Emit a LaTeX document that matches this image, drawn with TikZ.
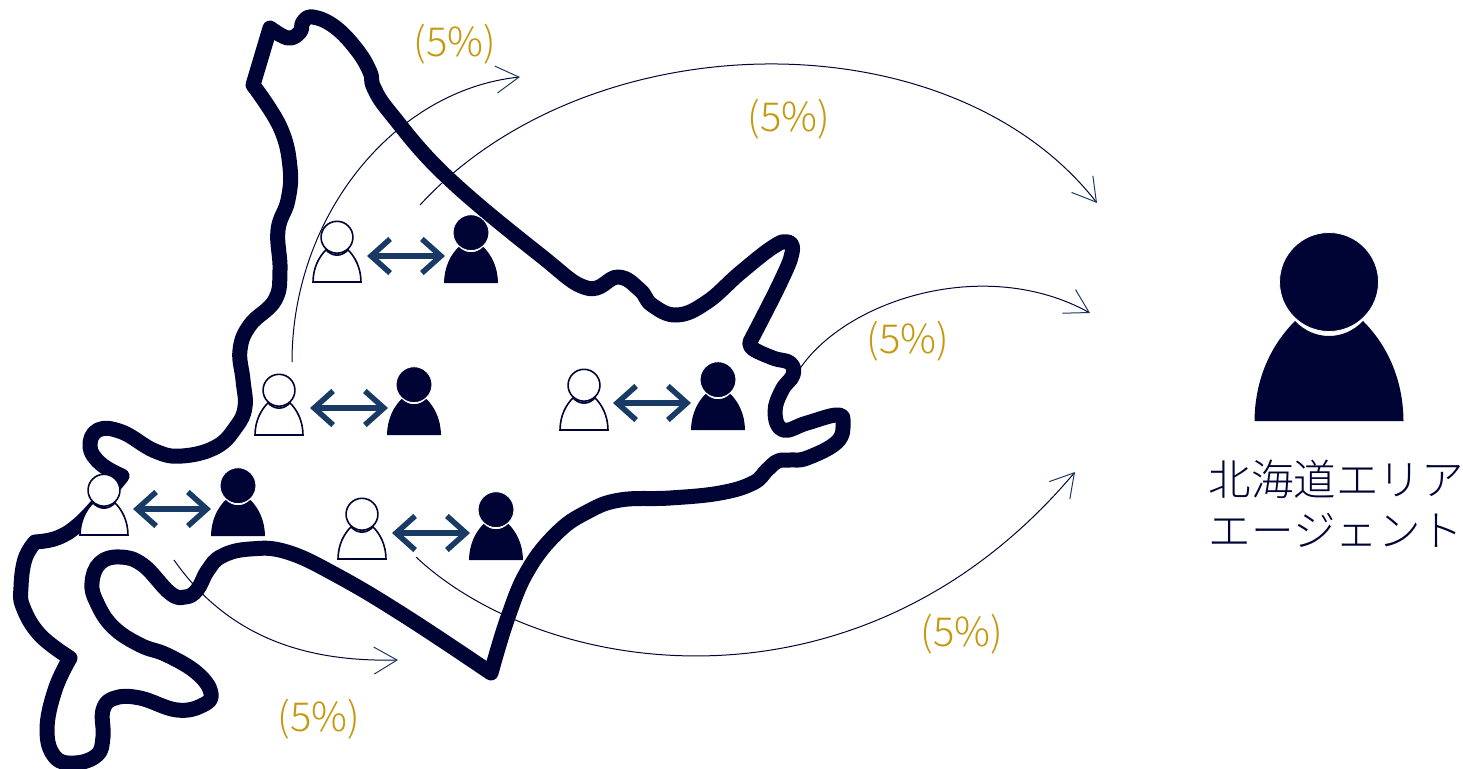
\documentclass[tikz,border=0pt]{standalone}
\usepackage{fontspec}
\usetikzlibrary{arrows.meta}
\newfontfamily\jpfont{Noto Sans CJK JP Light}
\definecolor{mapnavy}{HTML}{000435}
\definecolor{pairblue}{HTML}{1A3A66}
\definecolor{rategold}{HTML}{C5980F}
\tikzset{
	coast/.style={draw=mapnavy,line width=15pt,line join=round,line cap=round},
	pairarrow/.style={draw=pairblue,line width=5.5pt,{Straight Barb[length=19pt,width=34pt]}-{Straight Barb[length=19pt,width=34pt]}},
	flowarrow/.style={draw=mapnavy,line width=1pt,-{Straight Barb[length=23pt,width=27pt,color=pairblue,line width=1pt]}},
	ratelabel/.style={text=rategold,font=\jpfont\fontsize{40}{40}\selectfont},
	agentlabel/.style={text=mapnavy,font=\jpfont\fontsize{42.5}{50}\selectfont},
	darkperson/.pic={
		\fill[mapnavy] (-74.5,0) .. controls (-74,-45) and (-56,-78) .. (-34,-100) .. controls (-15,-80) and (15,-80) .. (34,-100) .. controls (56,-78) and (74,-45) .. (74.5,0) -- cycle;
		\fill[mapnavy,draw=white,line width=.8pt] (0,-139) circle (49.5);
	},
	whiteperson/.pic={
		\filldraw[fill=white,draw=mapnavy,line width=1.6pt] (-74.5,0) .. controls (-74,-45) and (-56,-78) .. (-34,-100) .. controls (-15,-78) and (15,-78) .. (34,-100) .. controls (56,-78) and (74,-45) .. (74.5,0) -- cycle;
		\filldraw[fill=white,draw=mapnavy,line width=1.6pt] (0,-139) circle (49.5);
	}
}
\begin{document}
\begin{tikzpicture}[x=1pt,y=-1pt]
	\useasboundingbox (0,0) rectangle (1463,768);
	\draw[coast] plot[smooth,tension=.7] coordinates {(270,28) (288,38) (300,32) (303,22) (313,17) (335,27) (357,50) (370,72) (374,88) (392,115) (447,177) (540,255) (587,288) (618,277) (640,290) (652,305) (677,315) (707,302) (740,273) (773,247) (788,242) (792,253) (780,283) (751,340)}
		-- plot[smooth,tension=.7] coordinates {(751,340) (752,348) (773,358) (790,363) (793,375) (782,390) (775,412) (783,430) (807,423) (837,415) (843,423) (837,442) (807,458) (790,460) (778,461) (767,470) (753,483) (720,493) (670,498) (620,500) (587,512) (557,533) (528,570) (508,617) (491,673)}
		-- plot[smooth,tension=.7] coordinates {(491,673) (405,616) (338,576) (287,552) (250,549) (222,556) (208,570) (197,590) (185,597) (170,593) (143,565) (120,557) (100,563) (92,583) (97,603) (113,627) (140,645) (167,655) (197,673) (211,693) (203,705) (177,710) (140,698) (115,698) (103,710) (103,737) (97,755) (75,763) (55,757) (47,730) (55,690) (70,658)}
		-- plot[smooth,tension=.7] coordinates {(70,658) (40,635) (23,607) (21,587) (25,559) (35,542)}
		-- plot[smooth,tension=.7] coordinates {(35,542) (57,538) (78,525) (101,501) (122,476)}
		-- plot[smooth,tension=.7] coordinates {(122,476) (101,464) (90,447) (98,430) (122,432) (155,451) (182,456) (216,447) (236,427) (245,407) (243,380) (240,350) (250,325) (275,300) (280,270) (278,230) (288,200) (290,167) (280,127) (253,85)}
		-- cycle;
	\coordinate (northstart) at (292,362);
	\coordinate (northend) at (520,77);
	\coordinate (eaststart) at (420,205);
	\coordinate (eastend) at (1097,203);
	\coordinate (kushirostart) at (799,370);
	\coordinate (kushiroend) at (1090,313);
	\coordinate (obihirostart) at (416,557);
	\coordinate (obihiroend) at (1075,472);
	\coordinate (southstart) at (174,560);
	\coordinate (southend) at (398,660);
	\draw[flowarrow] (northstart) .. controls (292,215) and (395,90) .. (northend);
	\draw[flowarrow] (eaststart) .. controls (590,20) and (950,15) .. (eastend);
	\draw[flowarrow] (kushirostart) .. controls (845,300) and (985,255) .. (kushiroend);
	\draw[flowarrow] (obihirostart) .. controls (545,678) and (860,727) .. (obihiroend);
	\draw[flowarrow] (southstart) .. controls (230,640) and (310,662) .. (southend);
	\pic[scale=.322] (wa) at (337,282) {whiteperson};
	\pic[scale=.362] (da) at (471,283) {darkperson};
	\pic[scale=.322] (wb) at (279,435) {whiteperson};
	\pic[scale=.362] (db) at (414,435) {darkperson};
	\pic[scale=.322] (wc) at (584,430) {whiteperson};
	\pic[scale=.362] (dc) at (718,430) {darkperson};
	\pic[scale=.322] (wd) at (104,535) {whiteperson};
	\pic[scale=.362] (dd) at (238,536) {darkperson};
	\pic[scale=.322] (we) at (362,559) {whiteperson};
	\pic[scale=.362] (de) at (496,560) {darkperson};
	\pic (agent) at (1329,421) {darkperson};
	\coordinate (al) at (367,256);
	\coordinate (ar) at (445,256);
	\coordinate (bl) at (310,408);
	\coordinate (br) at (388,408);
	\coordinate (cl) at (613,403);
	\coordinate (cr) at (691,403);
	\coordinate (dl) at (133,509);
	\coordinate (dr) at (211,509);
	\coordinate (el) at (392,533);
	\coordinate (er) at (470,533);
	\draw[pairarrow] (al) -- (ar);
	\draw[pairarrow] (bl) -- (br);
	\draw[pairarrow] (cl) -- (cr);
	\draw[pairarrow] (dl) -- (dr);
	\draw[pairarrow] (el) -- (er);
	\node[ratelabel] (ratenorth) at (455,44) {(5\%)};
	\node[ratelabel] (rateeast) at (789,119) {(5\%)};
	\node[ratelabel] (ratekushiro) at (908,341) {(5\%)};
	\node[ratelabel] (rateobihiro) at (962,634) {(5\%)};
	\node[ratelabel] (ratesouth) at (319,719) {(5\%)};
	\node[agentlabel] (agentname) at (1336,479) {北海道エリア};
	\node[agentlabel] (agentrole) at (1336,530) {エージェント};
\end{tikzpicture}
\end{document}
